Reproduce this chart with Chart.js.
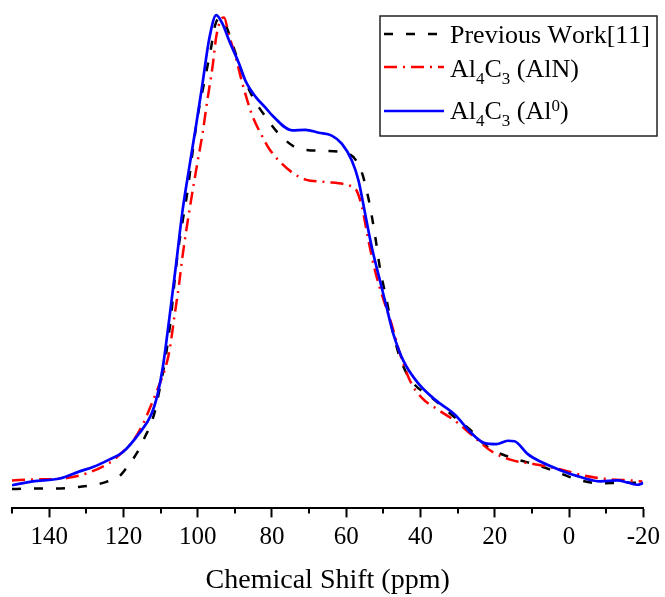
<!DOCTYPE html>
<html>
<head>
<meta charset="utf-8">
<script src="https://cdn.jsdelivr.net/npm/chart.js@4.4.1/dist/chart.umd.min.js"></script>
<style>
  html, body { margin: 0; padding: 0; background: #ffffff; }
  #wrap { width: 665px; height: 597px; }
</style>
</head>
<body>
<div id="wrap"><canvas id="spectrum" width="665" height="597"></canvas></div>
<script>
// 27Al / 13C NMR spectra: chemical shift (ppm) and normalised intensity.
const previousWorkShift = [150, 146.5, 138.9, 132.7, 125.5, 120.8, 119.3, 116.4, 113.9, 113.0, 111.4, 110.1, 108.5, 107.2, 106.3, 105.4, 104.5, 102.7, 101.4, 100.1, 98.3, 96.5, 95.3, 94.2, 92.9, 91.6, 89.8, 88.0, 85.3, 81.7, 78.2, 72.8, 65.6, 59.4, 56.0, 54.0, 52.2, 50.9, 49.1, 47.3, 45.1, 42.2, 36.6, 31.7, 26.8, 21.8, 15.7, 8.5, 3.1, -2.3, -8.5, -14.8, -20];
const previousWorkIntensity = [0.009, 0.010, 0.010, 0.013, 0.022, 0.038, 0.052, 0.084, 0.123, 0.137, 0.175, 0.224, 0.291, 0.368, 0.438, 0.500, 0.548, 0.634, 0.712, 0.784, 0.857, 0.927, 0.979, 0.993, 0.986, 0.962, 0.920, 0.878, 0.830, 0.787, 0.752, 0.721, 0.716, 0.710, 0.675, 0.616, 0.537, 0.470, 0.403, 0.333, 0.274, 0.233, 0.198, 0.165, 0.134, 0.096, 0.075, 0.059, 0.044, 0.029, 0.021, 0.022, 0.022];

const alnShift = [150, 144.4, 135.3, 123.7, 121.0, 117.5, 114.8, 112.1, 110.3, 109.0, 107.6, 106.3, 105.0, 104.1, 101.8, 100.1, 98.7, 97.4, 96.0, 95.0, 93.8, 92.9, 91.6, 89.8, 88.0, 85.3, 82.6, 80.8, 78.2, 74.6, 71.0, 65.6, 60.3, 58.0, 57.2, 55.8, 54.0, 52.2, 50.5, 47.8, 45.5, 42.8, 39.7, 35.3, 30.8, 26.3, 20.9, 15.6, 9.3, 2.2, -4.1, -10.3, -16.6, -19.7];
const alnIntensity = [0.027, 0.029, 0.032, 0.064, 0.081, 0.109, 0.144, 0.193, 0.228, 0.255, 0.298, 0.368, 0.438, 0.495, 0.612, 0.690, 0.752, 0.822, 0.892, 0.955, 0.990, 0.995, 0.958, 0.913, 0.858, 0.790, 0.746, 0.721, 0.696, 0.671, 0.656, 0.651, 0.646, 0.639, 0.633, 0.600, 0.528, 0.464, 0.418, 0.354, 0.291, 0.235, 0.200, 0.175, 0.152, 0.123, 0.088, 0.070, 0.061, 0.050, 0.037, 0.030, 0.027, 0.025];

const al0Shift = [150, 144.4, 137.1, 131.8, 128.2, 123.7, 120.2, 115.7, 112.5, 110.8, 109.4, 107.6, 105.8, 104.1, 102.3, 100.5, 98.7, 96.9, 95.0, 93.4, 91.6, 88.9, 87.1, 84.4, 81.7, 79.9, 74.6, 71.0, 67.4, 63.9, 61.2, 58.5, 56.7, 54.9, 53.1, 50.9, 49.1, 47.3, 44.6, 40.6, 36.1, 30.8, 26.3, 22.7, 19.6, 16.5, 14.7, 11.1, 7.6, 2.2, -2.3, -8.5, -13.0, -15.7, -18.4, -20];
const al0Intensity = [0.017, 0.025, 0.031, 0.046, 0.055, 0.071, 0.086, 0.126, 0.165, 0.207, 0.263, 0.368, 0.480, 0.590, 0.680, 0.766, 0.857, 0.950, 1.000, 0.983, 0.948, 0.899, 0.862, 0.829, 0.806, 0.790, 0.759, 0.760, 0.754, 0.748, 0.731, 0.696, 0.654, 0.584, 0.514, 0.444, 0.388, 0.333, 0.277, 0.230, 0.196, 0.165, 0.126, 0.105, 0.103, 0.110, 0.109, 0.082, 0.066, 0.048, 0.036, 0.025, 0.027, 0.023, 0.018, 0.022];

// Legend text; "_x" = subscript character, "^x" = superscript character.
const seriesNames = ['Previous Work[11]', 'Al_4C_3 (AlN)', 'Al_4C_3 (Al^0)'];

const xTickMin = -20, xTickMax = 150, xTickStep = 10, xLabelStep = 20;
const SERIF = '"Liberation Serif", "Times New Roman", serif';

function toPoints(xs, ys) { return xs.map((x, i) => ({ x: x, y: ys[i] })); }

// Short unlabeled ticks between the labelled ones.
const minorTicks = {
  id: 'minorTicks',
  afterDraw(chart) {
    const sx = chart.scales.x, ctx = chart.ctx;
    ctx.save();
    ctx.strokeStyle = '#000';
    ctx.lineWidth = 2;
    sx.ticks.forEach(t => {
      if (t.value % xLabelStep !== 0) {
        const px = Math.round(sx.getPixelForValue(t.value));
        ctx.beginPath();
        ctx.moveTo(px, sx.top);
        ctx.lineTo(px, sx.top + 5);
        ctx.stroke();
      }
    });
    ctx.restore();
  }
};

function drawRich(ctx, text, x, baseline, size) {
  let i = 0;
  while (i < text.length) {
    const c = text[i];
    if ((c === '_' || c === '^') && i + 1 < text.length) {
      const small = Math.round(size * 0.66);
      ctx.font = small + 'px ' + SERIF;
      const dy = c === '_' ? size * 0.27 : -size * 0.29;
      ctx.fillText(text[i + 1], x, baseline + dy);
      x += ctx.measureText(text[i + 1]).width;
      i += 2;
    } else {
      ctx.font = size + 'px ' + SERIF;
      ctx.fillText(c, x, baseline);
      x += ctx.measureText(c).width;
      i += 1;
    }
  }
}

// Boxed legend in the upper right corner with sub/superscripts.
const boxLegend = {
  id: 'boxLegend',
  afterDraw(chart) {
    const ctx = chart.ctx;
    const box = { left: 380, top: 16, right: 657, bottom: 136 };
    const rows = [
      { line: 34, base: 43 },
      { line: 67, base: 77 },
      { line: 111, base: 119 }
    ];
    ctx.save();
    ctx.strokeStyle = '#222';
    ctx.lineWidth = 1.5;
    ctx.strokeRect(box.left, box.top, box.right - box.left, box.bottom - box.top);
    const sets = chart.data.datasets;
    rows.forEach((r, k) => {
      const ds = sets[k];
      ctx.beginPath();
      ctx.setLineDash(ds.borderDash || []);
      ctx.strokeStyle = ds.borderColor;
      ctx.lineWidth = ds.borderWidth;
      ctx.moveTo(384, r.line);
      ctx.lineTo(444, r.line);
      ctx.stroke();
      ctx.setLineDash([]);
      ctx.fillStyle = '#000';
      ctx.textBaseline = 'alphabetic';
      ctx.textAlign = 'left';
      drawRich(ctx, seriesNames[k], 450, r.base, 26);
    });
    ctx.restore();
  }
};

new Chart(document.getElementById('spectrum'), {
  type: 'line',
  data: {
    datasets: [
      {
        label: 'Previous Work[11]',
        data: toPoints(previousWorkShift, previousWorkIntensity),
        borderColor: '#000000',
        borderWidth: 2.5,
        borderDash: [9, 13],
        order: 2
      },
      {
        label: 'Al₄C₃ (AlN)',
        data: toPoints(alnShift, alnIntensity),
        borderColor: '#ff0000',
        borderWidth: 2.5,
        borderDash: [13, 6, 2, 6],
        order: 1
      },
      {
        label: 'Al₄C₃ (Al⁰)',
        data: toPoints(al0Shift, al0Intensity),
        borderColor: '#0000ff',
        borderWidth: 2.7,
        order: 0
      }
    ]
  },
  options: {
    responsive: false,
    devicePixelRatio: 1,
    animation: false,
    elements: {
      point: { radius: 0, hoverRadius: 0 },
      line: { cubicInterpolationMode: 'monotone', fill: false }
    },
    layout: { padding: { left: 12, right: 19, top: 7, bottom: 0 } },
    plugins: {
      legend: { display: false },
      tooltip: { enabled: false }
    },
    scales: {
      x: {
        type: 'linear',
        reverse: true,
        min: xTickMin,
        max: xTickMax,
        border: { display: true, color: '#000', width: 2 },
        grid: {
          drawOnChartArea: false,
          drawTicks: true,
          tickLength: 9,
          tickWidth: 2,
          tickColor: ctx => (ctx.tick && ctx.tick.value % xLabelStep === 0 ? '#000' : 'rgba(0,0,0,0)')
        },
        ticks: {
          stepSize: xTickStep,
          autoSkip: false,
          maxRotation: 0,
          padding: 5,
          color: '#000',
          font: { family: SERIF, size: 25 },
          callback: v => (v % xLabelStep === 0 ? String(v) : '')
        },
        title: {
          display: true,
          text: 'Chemical Shift (ppm)',
          color: '#000',
          font: { family: SERIF, size: 28 },
          padding: { top: 6, bottom: 0 }
        }
      },
      y: {
        display: false,
        min: -0.0314,
        max: 1.0168
      }
    }
  },
  plugins: [minorTicks, boxLegend]
});
</script>
</body>
</html>
